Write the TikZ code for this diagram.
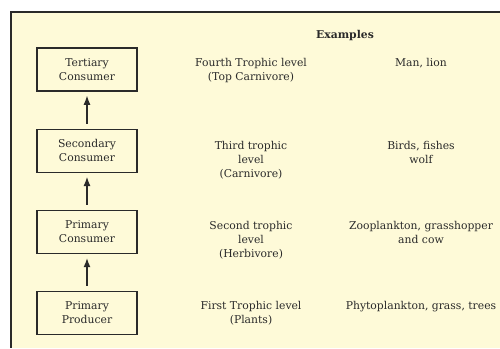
\documentclass[tikz,border=0pt]{standalone}
\usepackage{fontspec}
\setmainfont{DejaVu Serif}
\usetikzlibrary{arrows.meta,positioning}
\definecolor{paper}{HTML}{FEFAD8}
\definecolor{ink}{HTML}{2A2A2A}

\begin{document}
\begin{tikzpicture}[x=1pt, y=-1pt, font=\fontsize{10.8}{14}\selectfont, text=ink, >=Latex, node distance=37pt,
  level/.style={draw=ink, line width=1.2pt, align=center, minimum width=100pt, minimum height=43pt, inner sep=0pt},
  note/.style={align=center, anchor=north, inner sep=0pt},
  flow/.style={->, draw=ink, line width=1.4pt, shorten >=4pt, shorten <=5pt}]
  \useasboundingbox (0,0) rectangle (500,348);
  \fill[paper] (11,12) rectangle (500,348);
  \draw[ink, line width=2pt] (500,12) -- (11,12) -- (11,348);
  % food chain boxes
  \node[level] (producer) at (87,313) {Primary\\Producer};
  \node[level, above=of producer] (primary) {Primary\\Consumer};
  \node[level, above=of primary] (secondary) {Secondary\\Consumer};
  \node[level, above=of secondary] (tertiary) {Tertiary\\Consumer};
  \draw[flow] (producer) -- (primary);
  \draw[flow] (primary) -- (secondary);
  \draw[flow] (secondary) -- (tertiary);
  % trophic levels and examples
  \node[font=\fontsize{10.8}{14}\selectfont\bfseries] (examples) at (345,36) {Examples};
  \node[note] (fourth) at (251,58) {Fourth Trophic level\\(Top Carnivore)};
  \node[note] (third) at (251,141) {Third trophic\\level\\(Carnivore)};
  \node[note] (second) at (251,221) {Second trophic\\level\\(Herbivore)};
  \node[note] (first) at (251,301) {First Trophic level\\(Plants)};
  \node[note] (manlion) at (421,58) {Man, lion};
  \node[note] (birds) at (421,141) {Birds, fishes\\wolf};
  \node[note] (zoo) at (421,221) {Zooplankton, grasshopper\\and cow};
  \node[note] (phyto) at (421,301) {Phytoplankton, grass, trees};
\end{tikzpicture}
\end{document}
